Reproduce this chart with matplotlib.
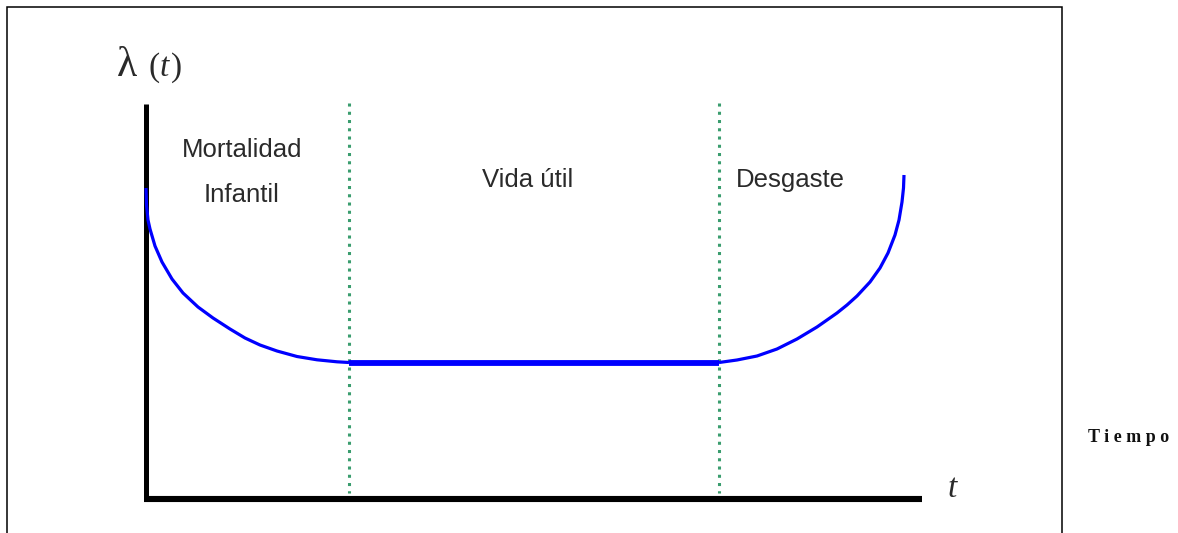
import numpy as np
import matplotlib.pyplot as plt

# curva de la bañera (x, y en pixeles de la figura)
infantil_x = [146, 146.5, 148, 150, 155, 162, 172, 183, 198, 213, 230,
              245, 260, 277, 297, 317, 337, 349]
infantil_y = [188, 205, 220, 229, 246, 262, 279, 293, 307, 318, 329,
              338, 345, 351, 356.5, 359.8, 361.8, 362.5]
util_x = [349, 719]
util_y = [362.5, 362.5]
desgaste_x = [719, 737, 757, 777, 797, 817, 837, 847, 857, 870, 880, 888,
              895, 899, 902, 903.5, 904]
desgaste_y = [362.5, 360, 356, 349, 339, 327, 313, 305, 296, 282, 268, 253,
              235, 220, 202, 188, 175]
limites_x = [349, 719]

W, H = 1178, 533
fig = plt.figure(figsize=(W / 100, H / 100), dpi=100)
ax = fig.add_axes([0, 0, 1, 1])
ax.set_xlim(0, W)
ax.set_ylim(H, 0)
ax.axis("off")

# marco
ax.plot([7, 7, 1062, 1062], [H + 5, 7, 7, H + 5], color="black", lw=1.1,
        solid_joinstyle="miter")

# limites de las fases
for x in limites_x:
    ax.plot([x, x], [103, 493], color="#3a9d6e", lw=2.2,
            linestyle=(0, (1, 1.7)), dash_capstyle="butt")

# ejes
ax.plot([146, 146], [104, 499], color="black", lw=3.6, solid_capstyle="butt")
ax.plot([144, 922], [499, 499], color="black", lw=4.4, solid_capstyle="butt")

# curva
ax.plot(infantil_x, infantil_y, color="#0000ff", lw=2.3,
        solid_capstyle="butt", solid_joinstyle="round")
ax.plot(util_x, util_y, color="#0000ff", lw=4.2, solid_capstyle="butt")
ax.plot(desgaste_x, desgaste_y, color="#0000ff", lw=2.3,
        solid_capstyle="butt", solid_joinstyle="round")

sans = "Liberation Sans"
serif = "Liberation Serif"
gris = "#2a2a2a"
ax.text(242, 150, "Mortalidad", fontsize=18.5, family=sans, color=gris,
        ha="center", va="center")
ax.text(242, 195, "Infantil", fontsize=18.5, family=sans, color=gris,
        ha="center", va="center")
ax.text(528, 180, "Vida útil", fontsize=18.5, family=sans, color=gris,
        ha="center", va="center")
ax.text(736, 180, "Desgaste", fontsize=18.5, family=sans, color=gris,
        ha="left", va="center")

ax.text(117, 66, "λ", fontsize=30, family=serif, color=gris,
        ha="left", va="center")
ax.text(148, 68, "(", fontsize=24, family=serif, color=gris,
        ha="left", va="center")
ax.text(160, 68, "t", fontsize=24, family=serif, style="italic", color=gris,
        ha="left", va="center")
ax.text(171, 68, ")", fontsize=24, family=serif, color=gris,
        ha="left", va="center")
ax.text(948, 489, "t", fontsize=24, family=serif, style="italic", color=gris,
        ha="left", va="center")

ax.text(1088, 437, "T i e m p o", fontsize=13, family=serif, weight="bold",
        color="#111111", ha="left", va="center")

fig.savefig("out.png", dpi=100)
